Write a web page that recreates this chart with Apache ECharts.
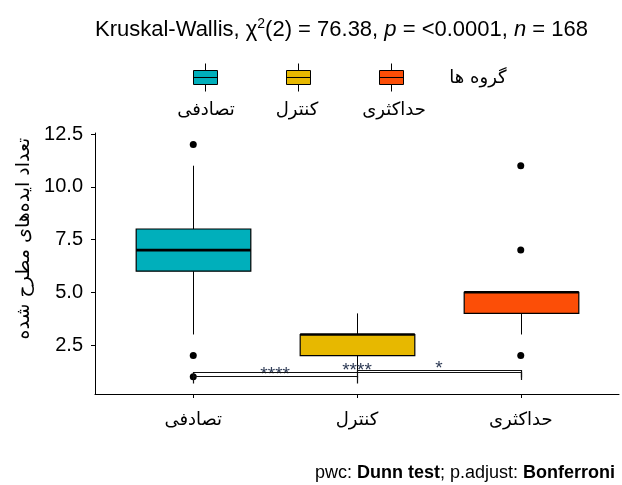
<!DOCTYPE html>
<html><head><meta charset="utf-8">
<script src="https://cdn.jsdelivr.net/npm/echarts@6/dist/echarts.min.js"></script>
<style>html,body{margin:0;padding:0;background:#fff}#c{width:622px;height:485px}</style>
</head><body><div id="c"></div>
<script>
// ---- data ----
const categories = ['تصادفی', 'کنترل', 'حداکثری'];
const groupColors = ['#00AFBB', '#E7B800', '#FC4E07'];
const whiskerLow = [3, 1, 3];
const q1Values = [6, 2, 4];
const medianValues = [7, 3, 5];
const q3Values = [8, 3, 5];
const whiskerHigh = [11, 4, 5];
const outlierGroup = [1, 1, 1, 3, 3, 3];
const outlierValues = [12, 2, 1, 11, 7, 2];
const yTicks = [2.5, 5.0, 7.5, 10.0, 12.5];
const pairStart = [1, 1, 2];
const pairEnd = [2, 3, 3];
const bracketY = [1.05, 1.21, 1.33];
const pLabels = ['****', '****', '*'];
const legendTitle = 'گروه ها';
const yTitle = 'تعداد ایده‌های مطرح شده';

const FA = 'DejaVu Sans';
const LA = 'Liberation Sans';

const chart = echarts.init(document.getElementById('c'), null, {renderer: 'canvas'});

function boxRender(color) {
  return function (params, api) {
    const x = api.value(0);
    const w = api.size([0.7, 0])[0];
    const pMin = api.coord([x, api.value(1)]);
    const pQ1 = api.coord([x, api.value(2)]);
    const pMed = api.coord([x, api.value(3)]);
    const pQ3 = api.coord([x, api.value(4)]);
    const pMax = api.coord([x, api.value(5)]);
    const cx = Math.round(pMin[0]) + 0.5;
    return {
      type: 'group',
      children: [
        {type: 'line', shape: {x1: cx, y1: pMax[1], x2: cx, y2: pQ3[1]}, style: {stroke: '#000', lineWidth: 1}},
        {type: 'line', shape: {x1: cx, y1: pQ1[1], x2: cx, y2: pMin[1]}, style: {stroke: '#000', lineWidth: 1}},
        {type: 'rect', shape: {x: cx - w / 2, y: pQ3[1], width: w, height: pQ1[1] - pQ3[1]},
          style: {fill: color, stroke: '#000', lineWidth: 1.2}},
        {type: 'line', shape: {x1: cx - w / 2, y1: pMed[1], x2: cx + w / 2, y2: pMed[1]}, style: {stroke: '#000', lineWidth: 2.6}}
      ]
    };
  };
}

const series = categories.map((name, i) => ({
  name: name,
  type: 'custom',
  renderItem: boxRender(groupColors[i]),
  itemStyle: {color: groupColors[i], borderColor: '#000', borderWidth: 1},
  encode: {x: 0, y: [1, 2, 3, 4, 5]},
  data: [[i + 1, whiskerLow[i], q1Values[i], medianValues[i], q3Values[i], whiskerHigh[i]]],
  z: 2
}));

series.push({
  name: 'outliers',
  type: 'scatter',
  symbolSize: 7,
  itemStyle: {color: '#000', opacity: 1},
  data: outlierGroup.map((g, i) => [g, outlierValues[i]]),
  z: 3,
  silent: true
});

series.push({
  name: 'brackets',
  type: 'custom',
  data: pairStart.map((s, i) => [s, pairEnd[i], bracketY[i]]),
  encode: {x: [0, 1], y: 2},
  renderItem: function (params, api) {
    const tip = 0.37;
    const y = api.value(2);
    const a = api.coord([api.value(0), y]);
    const b = api.coord([api.value(1), y]);
    const a2 = api.coord([api.value(0), y - tip]);
    const b2 = api.coord([api.value(1), y - tip]);
    const ax = Math.round(a[0]) + 0.5, bx = Math.round(b[0]) + 0.5;
    const yy = Math.round(a[1]) + 0.5;
    return {
      type: 'group',
      children: [
        {type: 'polyline', shape: {points: [[ax, a2[1]], [ax, yy], [bx, yy], [bx, b2[1]]]},
          style: {stroke: '#111', lineWidth: 1.2, fill: null}},
        {type: 'text', x: (a[0] + b[0]) / 2, y: yy - 2,
          style: {text: pLabels[params.dataIndex], font: '19px ' + LA, fill: '#2d3a55', align: 'center', verticalAlign: 'middle'}}
      ]
    };
  },
  z: 4,
  silent: true
});

const legendIcon = 'path://M0 7 L24 7 L24 21 L0 21 Z M12 0 L12 7 M12 21 L12 28 M0 14 L24 14';

chart.setOption({
  animation: false,
  title: {
    text: 'Kruskal-Wallis, χ{sup|2}(2) = 76.38, {i|p} = <0.0001, {i|n} = 168',
    left: 95, top: 17, padding: 0,
    textStyle: {
      fontFamily: LA, fontSize: 22, fontWeight: 'normal', color: '#000',
      rich: {
        sup: {fontFamily: LA, fontSize: 14, color: '#000', verticalAlign: 'bottom', padding: [0, 0, 12, 0]},
        i: {fontFamily: LA, fontSize: 22, fontStyle: 'italic', color: '#000'}
      }
    }
  },
  legend: {
    data: categories.map(n => ({name: n, icon: legendIcon})),
    left: 193, top: 63, padding: 0,
    itemWidth: 24, itemHeight: 28, itemGap: 68,
    formatter: () => '',
    itemStyle: {borderColor: '#000', borderWidth: 1},
    selectedMode: false
  },
  grid: {left: 95, right: 3, top: 133, bottom: 91, containLabel: false},
  xAxis: {
    type: 'value', min: 0.4, max: 3.6,
    axisLine: {show: true, lineStyle: {color: '#000', width: 1}},
    axisTick: {show: true, length: 4, customValues: [1, 2, 3], lineStyle: {color: '#000'}},
    axisLabel: {customValues: [1, 2, 3], formatter: v => categories[Math.round(v) - 1] || '',
      fontFamily: FA, fontSize: 18, color: '#000', margin: 17},
    splitLine: {show: false}
  },
  yAxis: {
    type: 'value', min: 0.18, max: 12.55,
    name: yTitle, nameLocation: 'middle', nameGap: 59,
    nameTextStyle: {fontFamily: FA, fontSize: 19, color: '#000', padding: [0, 0, 0, 50]},
    axisLine: {show: true, lineStyle: {color: '#000', width: 1}},
    axisTick: {show: true, length: 4, customValues: yTicks, lineStyle: {color: '#000'}},
    axisLabel: {customValues: yTicks, formatter: v => v.toFixed(1),
      fontFamily: LA, fontSize: 20, color: '#000', margin: 12},
    splitLine: {show: false}
  },
  graphic: [
    {type: 'text', x: 478, y: 78, style: {text: legendTitle, font: '18px ' + FA, fill: '#000', align: 'center', verticalAlign: 'middle'}},
    {type: 'text', x: 206, y: 110, style: {text: categories[0], font: '18px ' + FA, fill: '#000', align: 'center', verticalAlign: 'middle'}},
    {type: 'text', x: 297, y: 110, style: {text: categories[1], font: '18px ' + FA, fill: '#000', align: 'center', verticalAlign: 'middle'}},
    {type: 'text', x: 394, y: 110, style: {text: categories[2], font: '18px ' + FA, fill: '#000', align: 'center', verticalAlign: 'middle'}},
    {type: 'text', x: 615, y: 473, style: {
      text: 'pwc: {b|Dunn test}; p.adjust: {b|Bonferroni}',
      font: '18px ' + LA, fill: '#000', align: 'right', verticalAlign: 'middle',
      rich: {b: {fontFamily: LA, fontSize: 18, fontWeight: 'bold', fill: '#000'}}
    }}
  ],
  series: series
});
</script></body></html>
